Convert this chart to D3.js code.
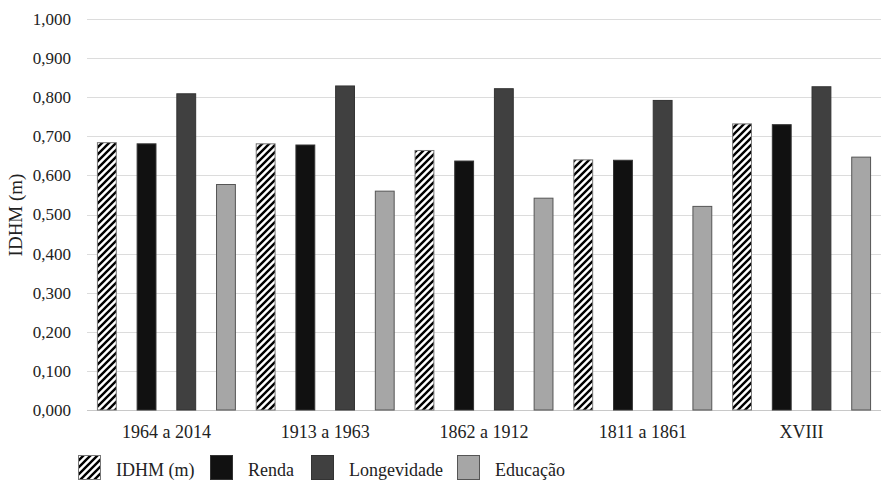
<!DOCTYPE html>
<html><head><meta charset="utf-8">
<script src="https://cdn.jsdelivr.net/npm/d3@7/dist/d3.min.js"></script>
<style>body{margin:0;background:#fff}svg{display:block}</style>
</head><body><svg id="c" width="883" height="487" font-family="'Liberation Serif', 'DejaVu Serif', serif"></svg>
<script>
const categories = ["1964 a 2014","1913 a 1963","1862 a 1912","1811 a 1861","XVIII"];
const seriesNames = ["IDHM (m)","Renda","Longevidade","Educação"];
const idhm = [0.685,0.682,0.665,0.641,0.733];
const renda = [0.682,0.679,0.638,0.640,0.731];
const longevidade = [0.810,0.830,0.823,0.793,0.828];
const educacao = [0.578,0.561,0.543,0.522,0.648];
const yTicks = [0,0.1,0.2,0.3,0.4,0.5,0.6,0.7,0.8,0.9,1.0];

const seriesValues = [idhm, renda, longevidade, educacao];
const fills = ["url(#hatch)","#111111","#404040","#a6a6a6"];
const strokes = ["#777","#333","#333","#555"];

const svg = d3.select("#c");
const defs = svg.append("defs");
const P = 7;
const pat = defs.append("pattern").attr("id","hatch").attr("patternUnits","userSpaceOnUse")
  .attr("width",P).attr("height",P);
pat.append("rect").attr("width",P).attr("height",P).attr("fill","#fff");
pat.append("path").attr("d",`M-1,1 l2,-2 M0,${P} l${P},-${P} M${P-1},${P+1} l2,-2`).attr("stroke","#000").attr("stroke-width",2.4);

const mLeft=87, mRight=881, mTop=19, mBottom=410;
const x = d3.scaleBand().domain(categories).range([mLeft,mRight]).padding(0);
const xs = d3.scaleBand().domain(seriesNames).range([0,x.bandwidth()]).paddingInner(0.5).paddingOuter(0.25);
const y = d3.scaleLinear().domain([0,1]).range([mBottom,mTop]);

const fmt = v => d3.format(".3f")(v).replace(".",",");
const txtCol = "#222";

// grid
svg.append("g").selectAll("line").data(yTicks).join("line")
  .attr("x1",mLeft).attr("x2",mRight).attr("y1",d=>Math.round(y(d))+0.5).attr("y2",d=>Math.round(y(d))+0.5)
  .attr("stroke",d=>d===0?"#c8c8c8":"#dcdcdc").attr("stroke-width",1);

// y labels
svg.append("g").selectAll("text").data(yTicks).join("text")
  .attr("x",71).attr("y",d=>y(d)).attr("dy","0.35em").attr("text-anchor","end")
  .attr("font-size",17).attr("fill",txtCol).text(fmt);

// y title
svg.append("text").attr("transform","translate(22,215) rotate(-90)").attr("text-anchor","middle")
  .attr("font-size",19).attr("fill",txtCol).text("IDHM (m)");

// bars
const g = svg.append("g");
seriesNames.forEach((s,si)=>{
  g.append("g").selectAll("rect").data(categories).join("rect")
    .attr("x",(c)=>x(c)+xs(s)+0.5)
    .attr("y",(c,i)=>y(seriesValues[si][i])+0.5)
    .attr("width",xs.bandwidth()-1)
    .attr("height",(c,i)=>y(0)-y(seriesValues[si][i])-0.5)
    .attr("fill",fills[si]).attr("stroke",strokes[si]).attr("stroke-width",1);
});

// x labels
svg.append("g").selectAll("text").data(categories).join("text")
  .attr("x",c=>x(c)+x.bandwidth()/2).attr("y",438).attr("text-anchor","middle")
  .attr("font-size",18).attr("fill",txtCol).text(d=>d);

// legend
const legX = [78,210,311,457];
const leg = svg.append("g");
seriesNames.forEach((s,i)=>{
  leg.append("rect").attr("x",legX[i]+0.5).attr("y",455.5).attr("width",22).attr("height",24)
    .attr("fill",fills[i]).attr("stroke",strokes[i]);
  leg.append("text").attr("x",legX[i]+38).attr("y",476).attr("font-size",18).attr("fill",txtCol).text(s);
});
</script></body></html>
